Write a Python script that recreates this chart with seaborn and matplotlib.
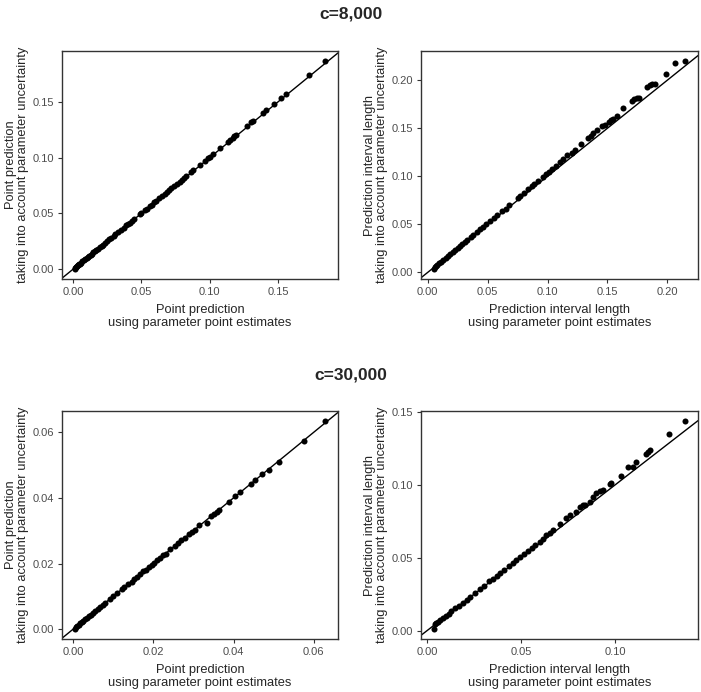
import numpy as np
import matplotlib
matplotlib.use("Agg")
import matplotlib.pyplot as plt
import seaborn as sns
import pandas as pd

# c=8,000 : point prediction
p1_x = [0.1846, 0.1725, 0.156, 0.152, 0.147, 0.1415, 0.139, 0.132, 0.1305, 0.127, 0.1195, 0.118,
        0.117, 0.1147, 0.1135, 0.1074, 0.1025, 0.100, 0.099, 0.0965, 0.093, 0.088, 0.0865, 0.083,
        0.0815, 0.0795, 0.078, 0.076, 0.074, 0.072, 0.0705, 0.0685, 0.067, 0.065, 0.063, 0.061,
        0.0595, 0.0576, 0.056, 0.054, 0.0525, 0.050, 0.049, 0.0445, 0.043, 0.0415, 0.0406, 0.039,
        0.037, 0.035, 0.033, 0.031, 0.0297, 0.028, 0.0265, 0.025, 0.0235, 0.022, 0.021, 0.0195,
        0.018, 0.017, 0.016, 0.015, 0.014, 0.013, 0.012, 0.011, 0.010, 0.009, 0.008, 0.007, 0.006,
        0.005, 0.0045, 0.004, 0.0035, 0.003, 0.0025, 0.002, 0.0015, 0.0012]
p1_y = [0.1862, 0.1738, 0.1572, 0.1531, 0.1481, 0.1426, 0.1401, 0.1331, 0.1315, 0.1280, 0.1205, 0.1190,
        0.1179, 0.1156, 0.1144, 0.1083, 0.1033, 0.1008, 0.0998, 0.0972, 0.0937, 0.0887, 0.0872, 0.0836,
        0.0821, 0.0801, 0.0786, 0.0766, 0.0745, 0.0725, 0.0710, 0.0690, 0.0675, 0.0655, 0.0635, 0.0614,
        0.0599, 0.0580, 0.0564, 0.0544, 0.0529, 0.0504, 0.0494, 0.0448, 0.0433, 0.0418, 0.0409, 0.0393,
        0.0373, 0.0353, 0.0332, 0.0312, 0.0299, 0.0282, 0.0267, 0.0252, 0.0237, 0.0222, 0.0211, 0.0196,
        0.0181, 0.0171, 0.0161, 0.0151, 0.0141, 0.0131, 0.0121, 0.0111, 0.0101, 0.0091, 0.0081, 0.0071,
        0.0060, 0.0050, 0.0045, 0.0040, 0.0035, 0.0030, 0.0025, 0.0020, 0.0015, 0.0006]

# c=8,000 : prediction interval length
p2_x = [0.215, 0.2066, 0.1986, 0.1895, 0.1875, 0.1855, 0.183, 0.1765, 0.1745, 0.172, 0.1704, 0.1627,
        0.1577, 0.155, 0.1528, 0.151, 0.148, 0.1452, 0.141, 0.138, 0.136, 0.134, 0.1279, 0.1231,
        0.1203, 0.116, 0.113, 0.110, 0.107, 0.104, 0.101, 0.099, 0.096, 0.092, 0.089, 0.087, 0.084,
        0.080, 0.077, 0.075, 0.068, 0.065, 0.062, 0.058, 0.055, 0.052, 0.049, 0.046, 0.044, 0.041,
        0.038, 0.036, 0.033, 0.031, 0.029, 0.027, 0.025, 0.023, 0.021, 0.019, 0.017, 0.015, 0.013,
        0.011, 0.0095, 0.008, 0.007, 0.006, 0.005]
p2_y = [0.2195, 0.2178, 0.2064, 0.1957, 0.1955, 0.1945, 0.193, 0.1819, 0.1815, 0.180, 0.1788, 0.1708,
        0.1622, 0.160, 0.1585, 0.156, 0.1535, 0.1518, 0.148, 0.1455, 0.142, 0.140, 0.1332, 0.1276,
        0.1242, 0.1218, 0.1175, 0.1145, 0.111, 0.108, 0.1045, 0.1025, 0.0995, 0.095, 0.092, 0.0895,
        0.0865, 0.0825, 0.0795, 0.0775, 0.070, 0.0665, 0.0635, 0.0595, 0.0565, 0.0535, 0.0505, 0.0475,
        0.0452, 0.042, 0.039, 0.0368, 0.0338, 0.0318, 0.0296, 0.0276, 0.0255, 0.0235, 0.0214, 0.0194,
        0.0173, 0.0153, 0.0132, 0.0112, 0.0097, 0.0082, 0.0071, 0.0061, 0.0040]

# c=30,000 : point prediction
p3_x = [0.0629, 0.0575, 0.0514, 0.0489, 0.0471, 0.0454, 0.0443, 0.0416, 0.0404, 0.0388, 0.0365,
        0.0358, 0.0351, 0.0344, 0.0333, 0.0315, 0.0305, 0.0297, 0.0288, 0.0279, 0.027, 0.0262,
        0.0254, 0.0242, 0.0232, 0.0225, 0.0218, 0.0210, 0.0203, 0.0196, 0.0190, 0.0182, 0.0175,
        0.0168, 0.0160, 0.0153, 0.0146, 0.0138, 0.0128, 0.0122, 0.0110, 0.0100, 0.0092, 0.0080,
        0.0074, 0.0068, 0.0062, 0.0056, 0.0050, 0.0045, 0.0040, 0.0035, 0.0030, 0.0026, 0.0022,
        0.0018, 0.0014, 0.0010, 0.0007, 0.0004]
p3_y = [0.0633, 0.0572, 0.0510, 0.0484, 0.0472, 0.0453, 0.0442, 0.0417, 0.0405, 0.0389, 0.0363,
        0.0357, 0.0350, 0.0346, 0.0324, 0.0316, 0.0303, 0.0297, 0.0290, 0.0278, 0.0273, 0.0262,
        0.0253, 0.0243, 0.0230, 0.0226, 0.0218, 0.0211, 0.0201, 0.0197, 0.0189, 0.0182, 0.0176,
        0.0167, 0.0160, 0.0154, 0.0145, 0.0139, 0.0128, 0.0123, 0.0110, 0.0101, 0.0092, 0.0080,
        0.0074, 0.0068, 0.0062, 0.0056, 0.0050, 0.0045, 0.0040, 0.0035, 0.0030, 0.0026, 0.0022,
        0.0018, 0.0014, 0.0010, 0.0007, 0.0002]

# c=30,000 : prediction interval length
p4_x = [0.1372, 0.1285, 0.1182, 0.1174, 0.1165, 0.1108, 0.1094, 0.1067, 0.1032, 0.0979, 0.0974,
        0.0934, 0.0917, 0.0899, 0.0881, 0.0864, 0.0837, 0.0828, 0.0811, 0.0790, 0.0758, 0.0740,
        0.0704, 0.0670, 0.0651, 0.0634, 0.0615, 0.0598, 0.0575, 0.0555, 0.0535, 0.0515, 0.0495,
        0.0475, 0.0455, 0.0435, 0.0410, 0.0390, 0.0370, 0.0350, 0.0330, 0.0300, 0.0280, 0.0255,
        0.0230, 0.0210, 0.0190, 0.0170, 0.0150, 0.0130, 0.0115, 0.0100, 0.0085, 0.0070, 0.0060,
        0.0050, 0.0042, 0.0035]
p4_y = [0.1434, 0.1345, 0.1236, 0.1226, 0.1208, 0.1158, 0.1123, 0.1123, 0.1060, 0.1014, 0.1005,
        0.0964, 0.0955, 0.0945, 0.0918, 0.0883, 0.0861, 0.0858, 0.0849, 0.0815, 0.0792, 0.0770,
        0.0731, 0.0690, 0.0671, 0.0655, 0.0630, 0.0609, 0.0590, 0.0568, 0.0548, 0.0528, 0.0505,
        0.0486, 0.0465, 0.0445, 0.0418, 0.0398, 0.0378, 0.0357, 0.0337, 0.0305, 0.0285, 0.0260,
        0.0234, 0.0213, 0.0193, 0.0172, 0.0152, 0.0132, 0.0116, 0.0101, 0.0086, 0.0071, 0.0061,
        0.0051, 0.0043, 0.0014]

titles = ["c=8,000", "c=30,000"]
xlab_pp = "Point prediction\nusing parameter point estimates"
ylab_pp = "Point prediction\ntaking into account parameter uncertainty"
xlab_pi = "Prediction interval length\nusing parameter point estimates"
ylab_pi = "Prediction interval length\ntaking into account parameter uncertainty"

sns.set_style("ticks")
plt.rcParams['font.family'] = ['Liberation Sans', 'DejaVu Sans']

W, H = 701, 692
fig = plt.figure(figsize=(W / 100, H / 100), dpi=100)

def box(left, top, right, bottom):
    return [left / W, 1 - bottom / H, (right - left) / W, (bottom - top) / H]

panels = [
    (p1_x, p1_y, xlab_pp, ylab_pp, box(62, 51, 338, 279), [0.00, 0.05, 0.10, 0.15]),
    (p2_x, p2_y, xlab_pi, ylab_pi, box(421, 51, 698, 279), [0.00, 0.05, 0.10, 0.15, 0.20]),
    (p3_x, p3_y, xlab_pp, ylab_pp, box(62, 411, 338, 639), [0.00, 0.02, 0.04, 0.06]),
    (p4_x, p4_y, xlab_pi, ylab_pi, box(421, 411, 698, 639), [0.00, 0.05, 0.10, 0.15]),
]

for xs, ys, xl, yl, rect, ticks in panels:
    ax = fig.add_axes(rect)
    df = pd.DataFrame({'x': xs, 'y': ys})
    sns.scatterplot(data=df, x='x', y='y', ax=ax, color='black', s=19, linewidth=0)
    ax.margins(0.05)
    ax.autoscale_view()
    x0, x1 = ax.get_xlim()
    y0, y1 = ax.get_ylim()
    ax.axline((0, 0), slope=1, color='black', linewidth=1.0)
    xt = [t for t in ticks if x0 <= t <= x1]
    yt = [t for t in ticks if y0 <= t <= y1]
    ax.set_xticks(xt)
    ax.set_yticks(yt)
    ax.set_xticklabels([f"{t:.2f}" for t in xt])
    ax.set_yticklabels([f"{t:.2f}" for t in yt])
    ax.set_xlim(x0, x1)
    ax.set_ylim(y0, y1)
    ax.tick_params(colors='#333333', labelcolor='#4D4D4D', labelsize=8, length=3, width=0.8, pad=3)
    for sp in ax.spines.values():
        sp.set_color('#333333')
        sp.set_linewidth(1.0)
    ax.set_xlabel(xl, fontsize=9.3, linespacing=1.05, labelpad=5)
    ax.set_ylabel(yl, fontsize=9.3, linespacing=1.05, labelpad=2)

fig.text(351 / W, 1 - 14 / H, titles[0], ha='center', va='center', fontsize=12.5, fontweight='bold')
fig.text(351 / W, 1 - 375 / H, titles[1], ha='center', va='center', fontsize=12.5, fontweight='bold')

fig.savefig("out.png", dpi=100)
